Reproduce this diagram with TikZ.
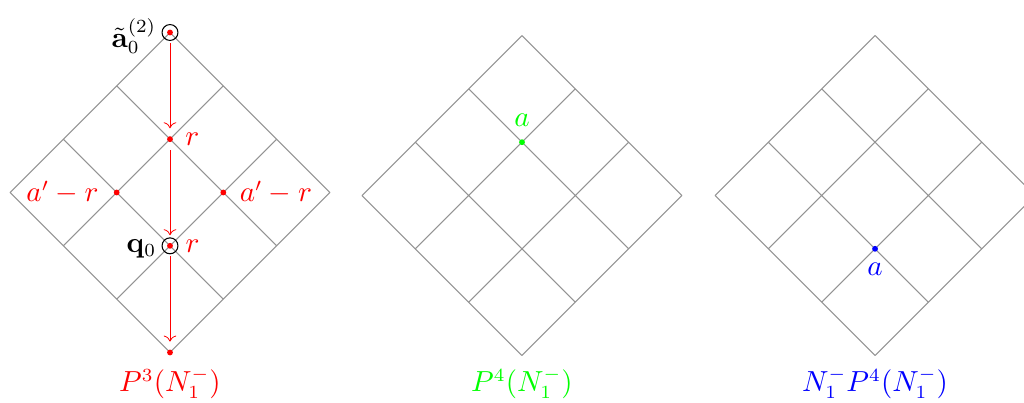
\documentclass[tikz,border=0pt]{standalone}
\usepackage{amsmath,amssymb}
\usepackage{tikz}
\usetikzlibrary{positioning, arrows.meta}

\begin{document}
\begin{tikzpicture}[
  font=\fontsize{10.7}{13}\selectfont,
  lattice/.style={gray!85, line width=0.4pt},
  ring/.style={circle, draw=black, line width=0.4pt, inner sep=0pt,
    minimum size=6pt, outer sep=1pt},
  spot/.style={circle, fill=#1, inner sep=0pt, minimum size=2.2pt, outer sep=3pt},
  flow/.style={red, line width=0.3pt, ->},
  lab/.style={inner sep=1pt},
]
  \useasboundingbox (-2.254,-2.791) rectangle (11.323,2.552);
  \clip (-2.254,-2.791) rectangle (11.323,2.552);

  % three lattices: 3x3 grids turned by 45 degrees
  \foreach \cx/\cy in {0/0, 4.667/-0.04, 9.348/-0.04}
    \draw[lattice, shift={({\cx},{\cy-2.1213})}, rotate=45] (0,0) grid (3,3);

  % first lattice: the red path
  \node[ring] (a0) at (0,2.1213) {};
  \node[spot=red] (a0dot) at (a0) {};
  \node[spot=red] (r1) at (0,0.7071) {};
  \node[spot=red] (lf) at (-0.7071,0) {};
  \node[spot=red] (rt) at (0.7071,0) {};
  \node[ring] (q0) at (0,-0.7071) {};
  \node[spot=red] (q0dot) at (q0) {};
  \node[spot=red] (bt) at (0,-2.1213) {};

  \draw[flow] (a0) -- (r1);
  \draw[flow] (r1) -- (q0);
  \draw[flow] (q0) -- (bt);

  \node[lab, left=0pt of a0, yshift=-1.5pt] (a0lab) {$\tilde{\mathbf{a}}_0^{(2)}$};
  \node[lab, left=0pt of q0, yshift=-1.2pt] (q0lab) {$\mathbf{q}_0$};
  \node[lab, red, right=0.5pt of r1] (r1lab) {$r$};
  \node[lab, red, right=0.7pt of q0] (q0r) {$r$};
  \node[lab, red, left=1.5pt of lf] (lflab) {$a'-r$};
  \node[lab, red, right=0.9pt of rt] (rtlab) {$a'-r$};

  % second and third lattice
  \node[spot=green] (ga) at (4.667,0.667) {};
  \node[lab, green, above=0.6pt of ga] (galab) {$a$};
  \node[spot=blue] (ba) at (9.348,-0.747) {};
  \node[lab, blue, below=0pt of ba] (balab) {$a$};

  % captions
  \node[red, anchor=base] (cap1) at (0,-2.645) {$P^3(N_1^-)$};
  \node[green, anchor=base] (cap2) at (4.667,-2.645) {$P^4(N_1^-)$};
  \node[blue, anchor=base] (cap3) at (9.348,-2.645) {$N_1^-P^4(N_1^-)$};
\end{tikzpicture}
\end{document}
